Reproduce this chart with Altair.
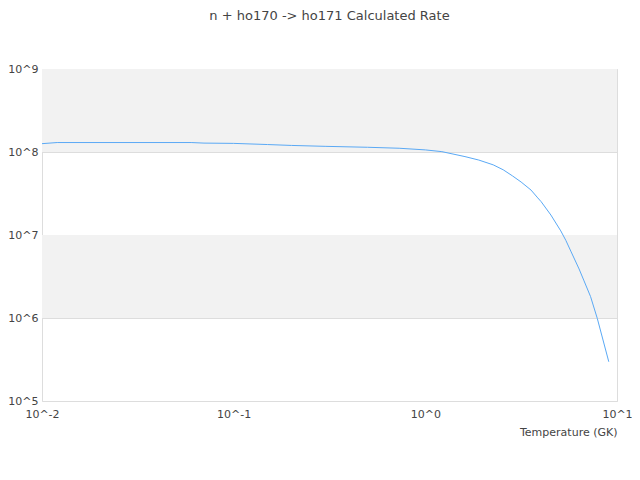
import pandas as pd
import altair as alt

# Temperature (GK) and rate
temps = [0.01, 0.012, 0.06, 0.07, 0.1, 0.15, 0.2, 0.3, 0.5, 0.73, 1.0, 1.22,
         1.61, 1.9, 2.26, 2.55, 2.85, 3.16, 3.56, 3.86, 4.02, 4.52, 5.09,
         5.41, 5.74, 6.34, 6.73, 7.28, 7.89, 9.06]
rates = [1.26e8, 1.30e8, 1.30e8, 1.28e8, 1.27e8, 1.23e8, 1.20e8, 1.17e8,
         1.14e8, 1.11e8, 1.06e8, 1.01e8, 8.8e7, 8.0e7, 7.0e7, 6.1e7, 5.15e7,
         4.35e7, 3.48e7, 2.8e7, 2.52e7, 1.74e7, 1.12e7, 8.6e6, 6.4e6, 3.9e6,
         2.8e6, 1.81e6, 9.9e5, 2.97e5]

# shaded decade bands
band_lo = [1e8, 1e6]
band_hi = [1e9, 1e7]

x_ticks = [0.01, 0.1, 1, 10]
y_ticks = [1e5, 1e6, 1e7, 1e8, 1e9]

W, H = 575, 332
FONT = "DejaVu Sans"
TXT = "#444444"

df = pd.DataFrame({"T": temps, "rate": rates})
bands = pd.DataFrame({"lo": band_lo, "hi": band_hi})

label_expr = "'10^' + round(log(datum.value) / LN10)"

xs = alt.Scale(type="log", domain=[0.01, 10], nice=False)
ys = alt.Scale(type="log", domain=[1e5, 1e9], nice=False)

y_axis = alt.Axis(values=y_ticks, labelExpr=label_expr, grid=True,
                  gridColor="#dddddd", ticks=False, domain=False,
                  labelPadding=4, labelAlign="right")

shade = alt.Chart(bands).mark_rect(color="#f2f2f2").encode(
    x=alt.value(0),
    x2=alt.value(W),
    y=alt.Y("lo:Q", scale=ys, title=None, axis=y_axis),
    y2="hi:Q",
)

line = alt.Chart(df).mark_line(color="#5aa9f5", strokeWidth=1).encode(
    x=alt.X("T:Q", scale=xs, title="Temperature (GK)",
            axis=alt.Axis(values=x_ticks, labelExpr=label_expr, grid=False,
                          ticks=False, domain=False, labelPadding=7,
                          titleAnchor="end", titleAlign="right",
                          titlePadding=7, labelFlush=False)),
    y=alt.Y("rate:Q", scale=ys, title=None, axis=y_axis),
)

chart = alt.layer(shade, line).properties(
    width=W,
    height=H,
    autosize=alt.AutoSizeParams(type="none"),
    padding={"left": 34, "top": 61, "right": 15, "bottom": 60},
    title=alt.Title("n + ho170 -> ho171 Calculated Rate", fontSize=13,
                    fontWeight="normal", font=FONT, color=TXT, offset=40),
).configure_view(
    stroke="#dddddd",
    strokeWidth=1,
).configure_axis(
    labelFont=FONT,
    titleFont=FONT,
    labelFontSize=11,
    titleFontSize=11,
    titleFontWeight="normal",
    labelColor=TXT,
    titleColor=TXT,
)

chart.save("out.html", embed_options={"renderer": "svg", "actions": False})
